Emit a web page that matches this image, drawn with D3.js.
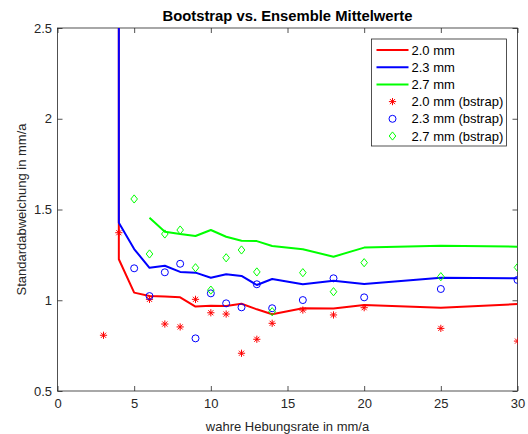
<!DOCTYPE html>
<html>
<head>
<meta charset="utf-8">
<script src="https://cdn.jsdelivr.net/npm/d3@7"></script>
<style>
  html, body { margin: 0; padding: 0; background: #fff; }
  svg { display: block; font-family: "Liberation Sans", Arial, sans-serif; }
</style>
</head>
<body>
<svg id="chart" width="528" height="434"></svg>
<script>
// Ensemble standard deviations (lines) by true uplift rate
const lineX = [4, 4, 5, 6, 7, 8, 9, 10, 11, 12, 13, 14, 16, 18, 20, 25, 30];
const ens20 = [3.5, 1.226, 1.042, 1.023, 1.020, 1.016, 0.965, 0.970, 0.968, 0.981, 0.950, 0.923, 0.956, 0.955, 0.974, 0.959, 0.979];
const ens23 = [3.5, 1.427, 1.282, 1.179, 1.190, 1.156, 1.152, 1.124, 1.143, 1.134, 1.084, 1.117, 1.088, 1.108, 1.090, 1.124, 1.121];
const greenX = [6, 7, 8, 9, 10, 11, 12, 13, 14, 16, 18, 20, 25, 30];
const ens27 = [1.455, 1.378, 1.365, 1.354, 1.387, 1.350, 1.328, 1.326, 1.299, 1.281, 1.240, 1.290, 1.300, 1.295];

// Bootstrap estimates (markers)
const bsRedX = [3, 4, 6, 7, 8, 9, 10, 11, 12, 13, 14, 16, 18, 20, 25, 30];
const bs20 = [0.807, 1.372, 1.005, 0.869, 0.853, 1.005, 0.931, 0.924, 0.708, 0.785, 0.873, 0.946, 0.919, 0.959, 0.845, 0.775];
const bsX = [5, 6, 7, 8, 9, 10, 11, 12, 13, 14, 16, 18, 20, 25, 30];
const bs23 = [1.176, 1.023, 1.154, 1.201, 0.790, 1.038, 0.983, 0.961, 1.088, 0.956, 1.001, 1.121, 1.016, 1.062, 1.112];
const bs27 = [1.558, 1.255, 1.365, 1.387, 1.179, 1.056, 1.234, 1.277, 1.156, 0.937, 1.152, 1.047, 1.207, 1.130, 1.181];

const xTicks = [0, 5, 10, 15, 20, 25, 30];
const yTicks = [0.5, 1, 1.5, 2, 2.5];
const legendLabels = ["2.0 mm", "2.3 mm", "2.7 mm", "2.0 mm (bstrap)", "2.3 mm (bstrap)", "2.7 mm (bstrap)"];

const titleText = "Bootstrap vs. Ensemble Mittelwerte";
const xLabelText = "wahre Hebungsrate in mm/a";
const yLabelText = "Standardabweichung in mm/a";

const RED = "#ff0000", BLUE = "#0000ff", GREEN = "#00ff00", AXIS = "#262626";

const svg = d3.select("#chart");
const m = { left: 57.5, right: 517.5, top: 28, bottom: 391 };

const x = d3.scaleLinear().domain([0, 30]).range([m.left, m.right]);
const y = d3.scaleLinear().domain([0.5, 2.5]).range([m.bottom, m.top]);

svg.append("defs").append("clipPath").attr("id", "plotclip")
  .append("rect")
  .attr("x", m.left).attr("y", m.top)
  .attr("width", m.right - m.left).attr("height", m.bottom - m.top);

// Axes with inward ticks on all four sides
const tickLen = 5;
const axB = svg.append("g").attr("transform", `translate(0,${m.bottom})`)
  .call(d3.axisBottom(x).tickValues(xTicks).tickSize(-tickLen).tickPadding(8).tickFormat(d3.format("~g")));
const axT = svg.append("g").attr("transform", `translate(0,${m.top})`)
  .call(d3.axisTop(x).tickValues(xTicks).tickSize(-tickLen).tickFormat(""));
const axL = svg.append("g").attr("transform", `translate(${m.left},0)`)
  .call(d3.axisLeft(y).tickValues(yTicks).tickSize(-tickLen).tickPadding(5.5).tickFormat(d3.format("~g")));
const axR = svg.append("g").attr("transform", `translate(${m.right},0)`)
  .call(d3.axisRight(y).tickValues(yTicks).tickSize(-tickLen).tickFormat(""));

[axB, axT, axL, axR].forEach(g => {
  g.select(".domain").remove();
  g.selectAll(".tick line").attr("stroke", AXIS).attr("stroke-width", 0.8);
  g.selectAll(".tick text").attr("fill", AXIS).attr("font-size", 13)
    .attr("font-family", "'Liberation Sans', Arial, sans-serif");
});

svg.append("rect")
  .attr("x", m.left).attr("y", m.top)
  .attr("width", m.right - m.left).attr("height", m.bottom - m.top)
  .attr("fill", "none").attr("stroke", AXIS).attr("stroke-width", 0.8);

// Lines
const plot = svg.append("g").attr("clip-path", "url(#plotclip)");
const line = d3.line().x(d => x(d[0])).y(d => y(d[1]));
const series = [
  { xs: lineX, ys: ens20, color: RED },
  { xs: lineX, ys: ens23, color: BLUE },
  { xs: greenX, ys: ens27, color: GREEN }
];
series.forEach(s => {
  plot.append("path")
    .datum(s.xs.map((v, i) => [v, s.ys[i]]))
    .attr("d", line)
    .attr("fill", "none").attr("stroke", s.color)
    .attr("stroke-width", 2).attr("stroke-linejoin", "round");
});

// Marker shapes
function asteriskPath(r) {
  const d = r * 0.7071;
  return `M${-r},0L${r},0M0,${-r}L0,${r}M${-d},${-d}L${d},${d}M${-d},${d}L${d},${-d}`;
}
function diamondPath(w, h) {
  return `M0,${-h}L${w},0L0,${h}L${-w},0Z`;
}
function drawMarker(g, kind, color) {
  if (kind === "star") {
    g.append("path").attr("d", asteriskPath(3.6)).attr("stroke", color)
      .attr("stroke-width", 1).attr("fill", "none");
  } else if (kind === "circle") {
    g.append("circle").attr("r", 3.5).attr("stroke", color)
      .attr("stroke-width", 1).attr("fill", "none");
  } else {
    g.append("path").attr("d", diamondPath(3.3, 4.1)).attr("stroke", color)
      .attr("stroke-width", 1).attr("fill", "none");
  }
}

const markerSets = [
  { xs: bsRedX, ys: bs20, color: RED, kind: "star" },
  { xs: bsX, ys: bs23, color: BLUE, kind: "circle" },
  { xs: bsX, ys: bs27, color: GREEN, kind: "diamond" }
];
markerSets.forEach(s => {
  s.xs.forEach((v, i) => {
    const g = plot.append("g").attr("transform", `translate(${x(v)},${y(s.ys[i])})`);
    drawMarker(g, s.kind, s.color);
  });
});

// Title and axis labels
svg.append("text")
  .attr("x", (m.left + m.right) / 2).attr("y", 20.5)
  .attr("text-anchor", "middle").attr("font-size", 14.8).attr("font-weight", "bold")
  .attr("fill", "#000").text(titleText);
svg.append("text")
  .attr("x", (m.left + m.right) / 2).attr("y", 431)
  .attr("text-anchor", "middle").attr("font-size", 13).attr("fill", AXIS)
  .text(xLabelText);
svg.append("text")
  .attr("transform", `translate(26,${(m.top + m.bottom) / 2}) rotate(-90)`)
  .attr("text-anchor", "middle").attr("font-size", 13).attr("fill", AXIS)
  .text(yLabelText);

// Legend
const lg = svg.append("g");
const lgX = 371.5, lgY = 39, lgW = 135, rowH = 17.2, row0 = 50;
lg.append("rect").attr("x", lgX).attr("y", lgY).attr("width", lgW)
  .attr("height", row0 - lgY + rowH * 5 + 10)
  .attr("fill", "#fff").attr("stroke", AXIS).attr("stroke-width", 0.8);
const legendItems = [
  { type: "line", color: RED }, { type: "line", color: BLUE }, { type: "line", color: GREEN },
  { type: "star", color: RED }, { type: "circle", color: BLUE }, { type: "diamond", color: GREEN }
];
legendItems.forEach((it, i) => {
  const cy = row0 + i * rowH;
  if (it.type === "line") {
    lg.append("line").attr("x1", 376.5).attr("x2", 408.5).attr("y1", cy).attr("y2", cy)
      .attr("stroke", it.color).attr("stroke-width", 2);
  } else {
    const g = lg.append("g").attr("transform", `translate(392.5,${cy})`);
    drawMarker(g, it.type, it.color);
  }
  lg.append("text").attr("x", 411.5).attr("y", cy).attr("dy", "0.36em")
    .attr("font-size", 13).attr("fill", "#000").text(legendLabels[i]);
});
</script>
</body>
</html>
